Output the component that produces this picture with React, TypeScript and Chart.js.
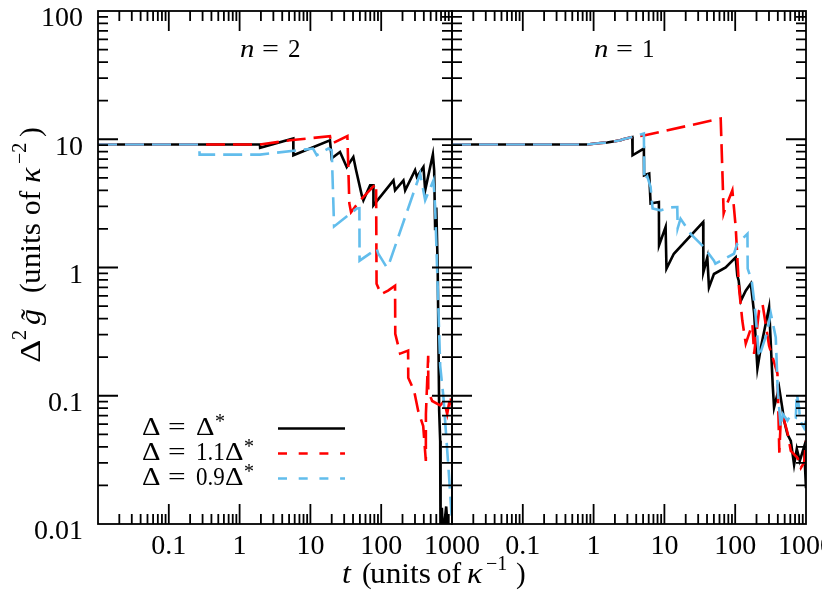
import React, { useEffect, useRef } from 'react';
import { Chart, registerables } from 'chart.js';

Chart.register(...registerables);

// ---------- data (t in units of 1/kappa, g in units of kappa^-2) ----------
// Left panel, n = 2
const leftBlackT = [0.01, 1.94, 1.95, 5.73, 5.75, 18.9, 20.0, 26.2, 32.6, 40.4, 44.2, 53.2, 56.0, 69.7, 77.6, 77.7, 148.9, 157, 206, 218, 301, 319, 395, 418, 537, 560, 578, 600, 628, 659, 681, 690, 719, 750, 828, 884];
const leftBlackG = [9.09, 9.09, 8.58, 10.13, 7.5, 9.82, 7.1, 7.96, 6.08, 7.27, 5.73, 3.65, 3.34, 4.37, 4.37, 3.05, 4.78, 4.0, 4.78, 4.0, 5.73, 5.08, 6.08, 4.0, 7.63, 5.73, 1.95, 2.94, 1.0, 0.076, 0.0445, 0.005, 0.0134, 0.008, 0.0137, 0.008];

const leftRedT = [0.01, 1.94, 5.14, 18.9, 19.8, 33.3, 35.5, 37.5, 50.3, 84.7, 86, 99.7, 125, 157, 158, 185, 240, 241, 292, 333, 392, 427, 428, 461, 462, 525, 681, 776, 855, 950, 1000];
const leftRedG = [9.09, 9.09, 9.82, 10.55, 9.2, 10.6, 3.16, 2.7, 3.34, 4.5, 0.746, 0.62, 0.66, 0.72, 0.304, 0.213, 0.225, 0.138, 0.109, 0.076, 0.058, 0.031, 0.072, 0.205, 0.108, 0.091, 0.084, 0.091, 0.072, 0.1, 0.08];

const leftBlueT = [0.01, 0.27, 0.272, 1.94, 10.9, 12.3, 17.9, 20, 21.6, 45.2, 49.2, 49.5, 86.7, 90.4, 120, 133.6, 355, 418, 547, 578, 644, 681, 759, 893, 1000];
const leftBlueG = [9.09, 9.09, 7.59, 7.59, 8.46, 7.5, 8.46, 8.2, 2.09, 2.88, 2.9, 1.13, 1.4, 1.29, 1.0, 1.13, 5.4, 3.34, 4.78, 2.96, 0.46, 0.171, 0.096, 0.027, 0.0105];

// Right panel, n = 1
const rightBlackT = [0.01, 0.52, 0.81, 1.25, 1.56, 2.4, 2.54, 3.52, 3.55, 5.13, 5.16, 6.1, 6.38, 8.36, 8.4, 10.4, 10.7, 13.6, 35.3, 35.5, 40.4, 42.6, 50.1, 73.4, 101.6, 107, 112, 120, 141, 166, 185, 206, 230, 301, 339, 354, 417, 465, 490, 547, 610, 679, 741, 817, 940, 1000];
const rightBlackG = [9.09, 9.09, 9.1, 9.35, 9.42, 9.82, 9.95, 10.4, 7.5, 8.46, 5.23, 5.4, 3.16, 3.24, 1.49, 2.07, 0.98, 1.28, 2.26, 0.92, 1.2, 0.7, 0.89, 1.0, 1.2, 0.866, 0.79, 0.55, 0.66, 0.75, 0.44, 0.163, 0.237, 0.49, 0.12, 0.081, 0.116, 0.079, 0.064, 0.05, 0.0445, 0.029, 0.0385, 0.031, 0.04, 0.019];

const rightRedT = [0.01, 0.52, 0.81, 1.25, 1.56, 2.4, 2.54, 3.52, 5.13, 62.4, 66.5, 68.7, 73.4, 91.2, 101.6, 113, 126, 141, 175, 185, 217, 243, 301, 395, 420, 440, 470, 547, 610, 759, 845, 940, 1000];
const rightRedG = [9.09, 9.09, 9.1, 9.35, 9.42, 9.82, 9.95, 10.4, 10.7, 14.5, 4.78, 2.64, 2.96, 4.0, 2.07, 0.7, 0.386, 0.255, 0.363, 0.212, 0.46, 0.52, 0.246, 0.149, 0.036, 0.064, 0.07, 0.0517, 0.0372, 0.0328, 0.0274, 0.0301, 0.0445];

const rightBlueT = [0.01, 0.52, 0.81, 1.25, 1.56, 2.4, 2.54, 3.52, 5.13, 5.2, 5.73, 6.38, 6.81, 8.83, 12.2, 15.2, 15.4, 16.9, 23.5, 32.5, 36.2, 50.1, 52.5, 96, 107, 149, 150, 171, 185, 195, 217, 245, 279, 318, 374, 399, 440, 470, 547, 610, 718, 741, 798, 825, 940, 1000];
const rightBlueG = [9.09, 9.09, 9.1, 9.35, 9.42, 9.82, 9.95, 10.4, 11.1, 4.78, 5.14, 4.24, 2.89, 2.79, 2.94, 2.96, 2.02, 2.4, 1.83, 1.53, 1.44, 1.13, 1.07, 1.28, 1.53, 1.83, 0.98, 0.79, 0.55, 0.41, 0.199, 0.246, 0.305, 0.44, 0.285, 0.109, 0.0565, 0.072, 0.064, 0.071, 0.0677, 0.104, 0.081, 0.064, 0.056, 0.064];

const xTickValues = [0.1, 1, 10, 100, 1000];
const xTickLabels = ['0.1', '1', '10', '100', '1000'];
const yTickValues = [0.01, 0.1, 1, 10, 100];
const yTickLabels = ['0.01', '0.1', '1', '10', '100'];
const panelNs = ['2', '1'];
const legendFactors = ['', '1.1', '0.9'];

const X_MIN = 0.01;
const X_MAX = 1000;
const Y_MIN = 0.01;
const Y_MAX = 100;

const BLACK = '#000000';
const RED = '#ff0000';
const BLUE = '#62bdec';
const SERIF = '"Liberation Serif", "DejaVu Serif", serif';

function pts(t: number[], g: number[]) {
  return t.map((x, i) => ({ x, y: g[i] }));
}

function logTicks(min: number, max: number) {
  const out: { v: number; major: boolean }[] = [];
  for (let e = Math.floor(Math.log10(min)); e <= Math.ceil(Math.log10(max)); e++) {
    for (let k = 1; k <= 9; k++) {
      const v = k * Math.pow(10, e);
      if (v > min * 1.0001 && v < max * 0.9999) out.push({ v, major: k === 1 });
    }
  }
  return out;
}

function drawText(ctx: CanvasRenderingContext2D, s: string, x: number, y: number, size: number, italic = false, sx = 1) {
  ctx.save();
  ctx.translate(x, y);
  ctx.scale(sx, 1);
  ctx.font = `${italic ? 'italic ' : ''}${size}px ${SERIF}`;
  ctx.textAlign = 'left';
  ctx.textBaseline = 'alphabetic';
  ctx.fillStyle = '#000';
  ctx.fillText(s, 0, 0);
  ctx.restore();
}

function framePlugin(panel: number) {
  return {
    id: 'frame' + panel,
    afterDraw(chart: any) {
      const ctx: CanvasRenderingContext2D = chart.ctx;
      const a = chart.chartArea;
      const xs = chart.scales.x;
      const ys = chart.scales.y;
      ctx.save();
      ctx.strokeStyle = '#000';
      ctx.lineWidth = 1.8;
      ctx.strokeRect(a.left, a.top, a.right - a.left, a.bottom - a.top);
      ctx.beginPath();
      for (const tk of logTicks(X_MIN, X_MAX)) {
        const px = xs.getPixelForValue(tk.v);
        const len = tk.major ? 20 : 10;
        ctx.moveTo(px, a.bottom);
        ctx.lineTo(px, a.bottom - len);
        ctx.moveTo(px, a.top);
        ctx.lineTo(px, a.top + len);
      }
      for (const tk of logTicks(Y_MIN, Y_MAX)) {
        const py = ys.getPixelForValue(tk.v);
        const len = tk.major ? 20 : 10;
        ctx.moveTo(a.left, py);
        ctx.lineTo(a.left + len, py);
        ctx.moveTo(a.right, py);
        ctx.lineTo(a.right - len, py);
      }
      ctx.stroke();

      // panel label
      const cx = (a.left + a.right) / 2;
      drawText(ctx, 'n', cx - 35, 57, 25, true, 1.15);
      drawText(ctx, '=', cx - 13, 57, 25, false, 1.2);
      drawText(ctx, panelNs[panel], cx + 13, 57, 25, false, 1.0);

      if (panel === 0) {
        // legend
        const rows = [435, 460, 485];
        const colors = [BLACK, RED, BLUE];
        rows.forEach((b, i) => {
          drawText(ctx, '\u0394', 142, b, 25, false, 1.15);
          drawText(ctx, '=', 168, b, 25, false, 1.25);
          if (legendFactors[i]) {
            drawText(ctx, legendFactors[i], 196, b, 25, false, 0.92);
            drawText(ctx, '\u0394', 225, b, 25, false, 1.15);
            drawText(ctx, '*', 244, b - 7, 20);
          } else {
            drawText(ctx, '\u0394', 196, b, 25, false, 1.15);
            drawText(ctx, '*', 215, b - 7, 20);
          }
          ctx.beginPath();
          ctx.strokeStyle = colors[i];
          ctx.lineWidth = 2.5;
          ctx.setLineDash(i === 0 ? [] : [9, 11.7]);
          ctx.moveTo(278, b - 6.5);
          ctx.lineTo(345, b - 6.5);
          ctx.stroke();
          ctx.setLineDash([]);
        });

        // x title
        const xb = 583;
        drawText(ctx, 't', 342, xb, 29, true, 1.1);
        drawText(ctx, '(', 362, xb, 29);
        drawText(ctx, 'units', 370, xb, 29, false, 1.08);
        drawText(ctx, 'of', 437, xb, 29, false, 1.0);
        drawText(ctx, '\u03BA', 467, xb, 29, true, 1.1);
        drawText(ctx, '\u22121', 486, xb - 13, 20);
        drawText(ctx, ')', 516, xb, 29);

        // y title (rotated)
        ctx.save();
        ctx.translate(40, 363);
        ctx.rotate(-Math.PI / 2);
        drawText(ctx, '\u0394', 0, 0, 29, false, 1.25);
        drawText(ctx, '2', 23, -14, 20);
        drawText(ctx, 'g\u0303', 38, 0, 29, true, 1.1);
        drawText(ctx, '(', 70, 0, 29);
        drawText(ctx, 'units', 79, 0, 29, false, 1.08);
        drawText(ctx, 'of', 148, 0, 29, false, 1.0);
        drawText(ctx, '\u03BA', 180, 0, 29, true, 1.1);
        drawText(ctx, '\u22122', 199, -14, 20);
        drawText(ctx, ')', 226, 0, 29);
        ctx.restore();
      }
      ctx.restore();
    },
  };
}

function makeConfig(panel: number, W: number): any {
  const sets = panel === 0
    ? [pts(leftBlackT, leftBlackG), pts(leftRedT, leftRedG), pts(leftBlueT, leftBlueG)]
    : [pts(rightBlackT, rightBlackG), pts(rightRedT, rightRedG), pts(rightBlueT, rightBlueG)];
  const common = { showLine: true, pointRadius: 0, borderWidth: 2.6, clip: 0, tension: 0, fill: false };
  const zeroPad = (s: any) => {
    s.paddingLeft = 0;
    s.paddingRight = 0;
    s.paddingTop = 0;
    s.paddingBottom = 0;
  };
  return {
    type: 'scatter',
    data: {
      datasets: [
        { ...common, label: '\u0394 = \u0394*', data: sets[0], borderColor: BLACK, order: 3 },
        { ...common, label: '\u0394 = 1.1\u0394*', data: sets[1], borderColor: RED, borderDash: [19, 8], order: 2 },
        { ...common, label: '\u0394 = 0.9\u0394*', data: sets[2], borderColor: BLUE, borderDash: [19, 8], order: 1 },
      ],
    },
    options: {
      responsive: false,
      animation: false,
      events: [],
      layout: {
        padding: panel === 0
          ? { left: 0, right: W - 452, top: 11, bottom: 0 }
          : { left: 452, right: W - 806, top: 11, bottom: 0 },
      },
      plugins: { legend: { display: false }, tooltip: { enabled: false } },
      scales: {
        x: {
          type: 'logarithmic',
          min: X_MIN,
          max: X_MAX,
          position: 'bottom',
          grid: { display: false, drawTicks: false },
          border: { display: false },
          ticks: {
            autoSkip: false,
            maxRotation: 0,
            minRotation: 0,
            padding: 6,
            color: '#000',
            font: { family: SERIF, size: 28 },
            callback: (v: number) => {
              const i = xTickValues.indexOf(v);
              return i >= 0 ? xTickLabels[i] : '';
            },
          },
          afterBuildTicks: (s: any) => {
            s.ticks = xTickValues.map((v) => ({ value: v }));
          },
          afterFit: (s: any) => {
            s.height = 72;
            zeroPad(s);
          },
        },
        y: {
          type: 'logarithmic',
          min: Y_MIN,
          max: Y_MAX,
          display: panel === 0,
          position: 'left',
          grid: { display: false, drawTicks: false },
          border: { display: false },
          ticks: {
            autoSkip: false,
            padding: 15,
            labelOffset: 8,
            color: '#000',
            font: { family: SERIF, size: 28 },
            callback: (v: number) => {
              const i = yTickValues.indexOf(v);
              return i >= 0 ? yTickLabels[i] : '';
            },
          },
          afterBuildTicks: (s: any) => {
            s.ticks = yTickValues.map((v) => ({ value: v }));
          },
          afterFit: (s: any) => {
            s.width = panel === 0 ? 98 : 0;
            zeroPad(s);
          },
        },
      },
    },
    plugins: [framePlugin(panel)],
  };
}

export default function App() {
  const refA = useRef<HTMLCanvasElement>(null);
  const refB = useRef<HTMLCanvasElement>(null);
  useEffect(() => {
    const a = new Chart(refA.current as HTMLCanvasElement, makeConfig(0, 822));
    const b = new Chart(refB.current as HTMLCanvasElement, makeConfig(1, 900));
    return () => {
      a.destroy();
      b.destroy();
    };
  }, []);
  return (
    <div style={{ position: 'fixed', left: 0, top: 0, width: 822, height: 596, overflow: 'hidden', background: '#fff' }}>
      <canvas ref={refA} width={822} height={596} style={{ position: 'absolute', left: 0, top: 0 }} />
      <canvas ref={refB} width={900} height={596} style={{ position: 'absolute', left: 0, top: 0 }} />
    </div>
  );
}
